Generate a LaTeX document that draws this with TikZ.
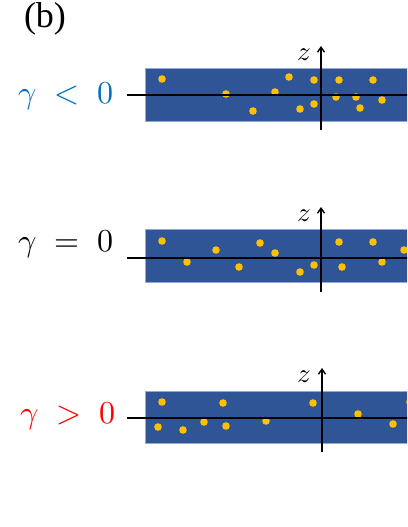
\documentclass[tikz,border=0pt]{standalone}
\usepackage{fontspec}
\usepackage{unicode-math}
\setmainfont{Liberation Serif}
\setmathfont{Latin Modern Math}
\usetikzlibrary{arrows.meta}
\definecolor{slab}{RGB}{47,85,151}
\definecolor{slabedge}{RGB}{143,170,220}
\definecolor{dotgold}{RGB}{255,192,0}
\definecolor{neglabel}{RGB}{0,112,192}
\tikzset{
  axisline/.style={line width=1.4pt, black},
  dot/.style={fill=dotgold},
  gammalabel/.style={font=\fontsize{32}{36}\selectfont, anchor=center, inner sep=0pt},
  zlabel/.style={font=\fontsize{27}{30}\selectfont, inner sep=0pt}
}

\begin{document}
\begin{tikzpicture}[x=1pt, y=-1pt]
  \useasboundingbox (0,0) rectangle (407,527);
  \clip (0,0) rectangle (407,527);
  \node[font=\fontsize{36}{40}\selectfont, inner sep=0pt] (tag) at (45,19) {(b)};

  % gamma < 0
  \filldraw[line width=0.6pt, fill=slab, draw=slabedge] (145,68) rectangle (420,121);
  \foreach \px/\py in {162/79, 226/94, 253/111, 275/92, 289/77, 300/109, 314/80, 314/104,
                       336/97, 339/80, 356/97, 360/108, 373/80, 382/100}
    \fill[dot] (\px,\py) circle (3.8);
  \coordinate (hl1) at (127,95);
  \coordinate (hr1) at (420,95);
  \coordinate (vb1) at (321,130);
  \coordinate (vt1) at (321,46);
  \draw[axisline] (hl1) -- (hr1);
  \draw[axisline, -{Straight Barb[length=5pt, width=7pt]}] (vb1) -- (vt1);
  \node[zlabel] (z1) at (304,55) {$z$};
  \node[gammalabel, text=neglabel] (g1) at (66,96) {$\gamma\;<\;0$};

  % gamma = 0
  \filldraw[line width=0.6pt, fill=slab, draw=slabedge] (145,229) rectangle (420,282);
  \foreach \px/\py in {162/241, 187/262, 216/250, 239/267, 260/243, 275/253, 300/272, 314/265,
                       339/242, 342/267, 373/242, 382/262, 404/250}
    \fill[dot] (\px,\py) circle (3.8);
  \coordinate (hl2) at (127,258);
  \coordinate (hr2) at (420,258);
  \coordinate (vb2) at (321,292);
  \coordinate (vt2) at (321,207);
  \draw[axisline] (hl2) -- (hr2);
  \draw[axisline, -{Straight Barb[length=5pt, width=7pt]}] (vb2) -- (vt2);
  \node[zlabel] (z2) at (304,216) {$z$};
  \node[gammalabel, text=black] (g2) at (66,244) {$\gamma\;=\;0$};

  % gamma > 0
  \filldraw[line width=0.6pt, fill=slab, draw=slabedge] (145,391) rectangle (420,443);
  \foreach \px/\py in {162/402, 223/403, 313/403, 358/414, 158/427, 183/430, 204/422, 226/426,
                       266/421, 393/424, 410/402}
    \fill[dot] (\px,\py) circle (3.8);
  \coordinate (hl3) at (127,418);
  \coordinate (hr3) at (420,418);
  \coordinate (vb3) at (322,452);
  \coordinate (vt3) at (322,368);
  \draw[axisline] (hl3) -- (hr3);
  \draw[axisline, -{Straight Barb[length=5pt, width=7pt]}] (vb3) -- (vt3);
  \node[zlabel] (z3) at (304,377) {$z$};
  \node[gammalabel, text=red] (g3) at (68,416) {$\gamma\;>\;0$};
\end{tikzpicture}
\end{document}
